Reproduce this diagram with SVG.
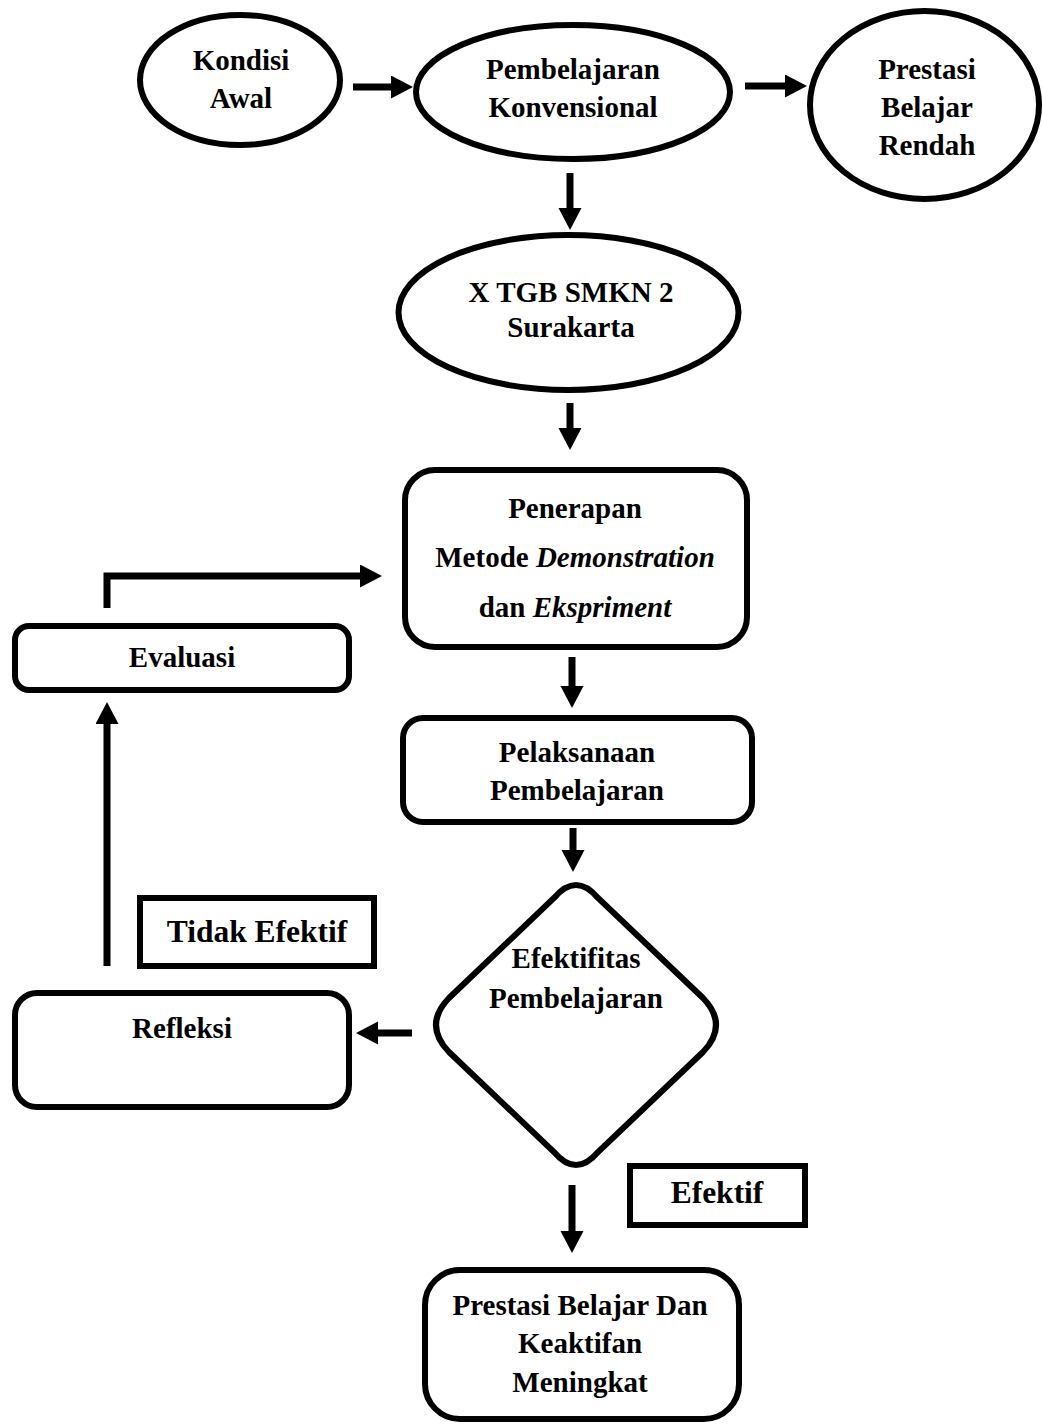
<svg xmlns="http://www.w3.org/2000/svg" width="1043" height="1425" viewBox="0 0 1043 1425">
<style>
.shape{fill:#fff;stroke:#000;stroke-width:6}
.conn{fill:none;stroke:#000;stroke-width:7;stroke-linejoin:miter}
text{font-family:"Liberation Serif","Times New Roman",serif;font-weight:bold;font-size:29px;fill:#000;text-anchor:middle}
.lbl{font-size:31.5px}
.it{font-style:italic}
</style>
<defs>
<marker id="ah" markerUnits="userSpaceOnUse" markerWidth="24" markerHeight="24" refX="2" refY="11.5" orient="auto">
<path d="M0,0 L22,11.5 L0,23 Z" fill="#000"/>
</marker>
</defs>
<rect width="1043" height="1425" fill="#fff"/>
<g id="connectors">
<path class="conn" d="M353,87 H393" marker-end="url(#ah)"/>
<path class="conn" d="M745,86 H787" marker-end="url(#ah)"/>
<path class="conn" d="M570,173 V210" marker-end="url(#ah)"/>
<path class="conn" d="M570,403 V430" marker-end="url(#ah)"/>
<path class="conn" d="M107,608 V576 H362" marker-end="url(#ah)"/>
<path class="conn" d="M572,657 V688" marker-end="url(#ah)"/>
<path class="conn" d="M573,828 V852" marker-end="url(#ah)"/>
<path class="conn" d="M412,1033 H376" marker-end="url(#ah)"/>
<path class="conn" d="M107,966 V722" marker-end="url(#ah)"/>
<path class="conn" d="M572,1185 V1233" marker-end="url(#ah)"/>
</g>
<g id="kondisi-awal">
<ellipse class="shape" cx="240" cy="80" rx="100" ry="65"/>
<text x="241" y="70">Kondisi</text>
<text x="241" y="108">Awal</text>
</g>
<g id="pembelajaran-konvensional">
<ellipse class="shape" cx="573" cy="92" rx="157" ry="67"/>
<text x="573" y="79">Pembelajaran</text>
<text x="573" y="117">Konvensional</text>
</g>
<g id="prestasi-rendah">
<ellipse class="shape" cx="924.5" cy="105" rx="114.5" ry="94"/>
<text x="927" y="79">Prestasi</text>
<text x="927" y="117">Belajar</text>
<text x="927" y="155">Rendah</text>
</g>
<g id="x-tgb">
<ellipse class="shape" cx="568.5" cy="312.5" rx="170" ry="77.5"/>
<text x="571" y="302">X TGB SMKN 2</text>
<text x="571" y="337">Surakarta</text>
</g>
<g id="penerapan">
<rect class="shape" x="405" y="470" width="342" height="177" rx="30"/>
<text x="575" y="518">Penerapan</text>
<text x="575" y="567">Metode <tspan class="it">Demonstration</tspan></text>
<text x="575" y="617">dan <tspan class="it">Ekspriment</tspan></text>
</g>
<g id="evaluasi">
<rect class="shape" x="15" y="626" width="334" height="64" rx="14"/>
<text x="182" y="667">Evaluasi</text>
</g>
<g id="pelaksanaan">
<rect class="shape" x="403" y="718" width="349" height="104" rx="20"/>
<text x="577" y="762">Pelaksanaan</text>
<text x="577" y="800">Pembelajaran</text>
</g>
<g id="efektifitas">
<path class="shape" d="M554,898 Q576,872 598,898 L703,998 Q729,1025 703,1052 L598,1152 Q576,1178 554,1152 L449,1052 Q423,1025 449,998 Z"/>
<text x="576" y="968">Efektifitas</text>
<text x="576" y="1008">Pembelajaran</text>
</g>
<g id="tidak-efektif">
<rect class="shape" x="140" y="898" width="234" height="68"/>
<text class="lbl" x="257" y="942">Tidak Efektif</text>
</g>
<g id="refleksi">
<rect class="shape" x="15" y="993" width="334" height="114" rx="22"/>
<text x="182" y="1038">Refleksi</text>
</g>
<g id="efektif">
<rect class="shape" x="630" y="1166" width="175" height="59"/>
<text class="lbl" x="717" y="1203">Efektif</text>
</g>
<g id="prestasi-meningkat">
<rect class="shape" x="425" y="1270" width="314" height="149" rx="35"/>
<text x="580" y="1315">Prestasi Belajar Dan</text>
<text x="580" y="1353">Keaktifan</text>
<text x="580" y="1392">Meningkat</text>
</g>
</svg>
